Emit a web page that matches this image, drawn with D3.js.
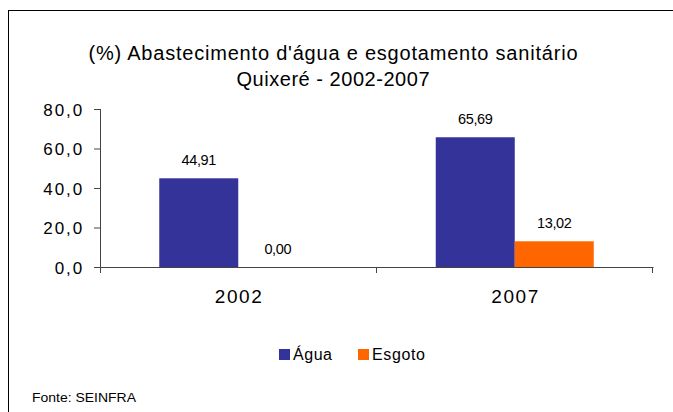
<!DOCTYPE html>
<html><head><meta charset="utf-8">
<script src="https://cdn.jsdelivr.net/npm/d3@7"></script>
<style>
html,body{margin:0;padding:0;background:#fff;}
svg{display:block;font-family:"Liberation Sans",Arial,sans-serif;}
</style></head>
<body>
<svg id="chart" width="673" height="412"></svg>
<script>
const categories = ["2002", "2007"];
const seriesNames = ["Água", "Esgoto"];
const agua = [44.91, 65.69];
const esgoto = [0.00, 13.02];
const yTicks = [0, 20, 40, 60, 80];
const titleLines = ["(%) Abastecimento d'água e esgotamento sanitário", "Quixeré - 2002-2007"];
const source = "Fonte: SEINFRA";
const colors = ["#333399", "#FF6600"];

(function () {
const loc = d3.formatLocale({decimal: ",", thousands: ".", grouping: [3], currency: ["", ""]});
const f1 = loc.format(".1f"), f2 = loc.format(".2f");

const svg = d3.select("#chart");
const axisColor = "#444";

// border
svg.append("rect").attr("x", 8.5).attr("y", 10.5).attr("width", 720).attr("height", 520)
  .attr("fill", "none").attr("stroke", "#000").attr("stroke-width", 1);

// title
svg.append("text").attr("x", 333).attr("y", 60).attr("text-anchor", "middle")
  .attr("font-size", 20).attr("textLength", 489).attr("lengthAdjust", "spacing")
  .attr("fill", "#000").text(titleLines[0]);
svg.append("text").attr("x", 333).attr("y", 86).attr("text-anchor", "middle")
  .attr("font-size", 20).attr("textLength", 193).attr("lengthAdjust", "spacing")
  .attr("fill", "#000").text(titleLines[1]);

const pL = 100, pR = 653, pT = 109, pB = 267;
const y = d3.scaleLinear().domain([0, 80]).range([pB, pT]);
const x0 = d3.scaleBand().domain(categories).range([pL, pR]).padding(0);
const x1 = d3.scaleBand().domain(seriesNames).range([0, x0.bandwidth()]).paddingInner(0).paddingOuter(0.75);

// bars
const data = categories.map((c, i) => ({cat: c, vals: [agua[i], esgoto[i]]}));
const g = svg.append("g");
data.forEach(d => {
  d.vals.forEach((v, j) => {
    g.append("rect")
      .attr("x", x0(d.cat) + x1(seriesNames[j]))
      .attr("y", y(v))
      .attr("width", x1.bandwidth())
      .attr("height", y(0) - y(v))
      .attr("fill", colors[j]);
    g.append("text")
      .attr("x", x0(d.cat) + x1(seriesNames[j]) + x1.bandwidth() / 2)
      .attr("y", y(v) - 13)
      .attr("text-anchor", "middle")
      .attr("font-size", 14.5)
      .attr("letter-spacing", -0.4)
      .attr("fill", "#000")
      .text(f2(v));
  });
});

// y axis
const yAxis = d3.axisLeft(y).tickValues(yTicks).tickFormat(f1).tickSize(6).tickPadding(10);
const ya = svg.append("g").attr("transform", `translate(${pL},0)`).call(yAxis);
ya.select(".domain").remove();
ya.selectAll("line").attr("stroke", axisColor);
ya.selectAll("text").attr("font-size", 17).attr("letter-spacing", 1.9)
  .attr("fill", "#000")
  .attr("font-family", "'Liberation Sans',Arial,sans-serif").attr("dy", "0.36em");
svg.append("line").attr("x1", pL + 0.5).attr("x2", pL + 0.5).attr("y1", pT).attr("y2", pB + 6)
  .attr("stroke", axisColor);

// x axis
svg.append("line").attr("x1", pL).attr("x2", pR + 0.5).attr("y1", pB + 0.5).attr("y2", pB + 0.5)
  .attr("stroke", axisColor);
const bounds = categories.map(c => x0(c)).concat([x0.range()[1]]);
svg.selectAll(".xt").data(bounds.slice(1)).enter().append("line")
  .attr("x1", d => Math.round(d) - 0.5).attr("x2", d => Math.round(d) - 0.5)
  .attr("y1", pB).attr("y2", pB + 6).attr("stroke", axisColor);
svg.selectAll(".xl").data(categories).enter().append("text")
  .attr("x", d => x0(d) + x0.bandwidth() / 2).attr("y", 303)
  .attr("text-anchor", "middle").attr("font-size", 19)
  .attr("textLength", 47).attr("lengthAdjust", "spacing")
  .attr("fill", "#000").text(d => d);

// legend
const legX = [279, 358];
const legW = [39, 53];
seriesNames.forEach((s, j) => {
  svg.append("rect").attr("x", legX[j]).attr("y", 349).attr("width", 11).attr("height", 11).attr("fill", colors[j]);
  svg.append("text").attr("x", legX[j] + 14).attr("y", 360).attr("font-size", 16)
    .attr("textLength", legW[j]).attr("lengthAdjust", "spacing").attr("fill", "#000").text(s);
});

// source
svg.append("text").attr("x", 32).attr("y", 402).attr("font-size", 13.5)
  .attr("textLength", 104).attr("lengthAdjust", "spacingAndGlyphs").attr("fill", "#000").text(source);
})();
</script>
</body></html>
